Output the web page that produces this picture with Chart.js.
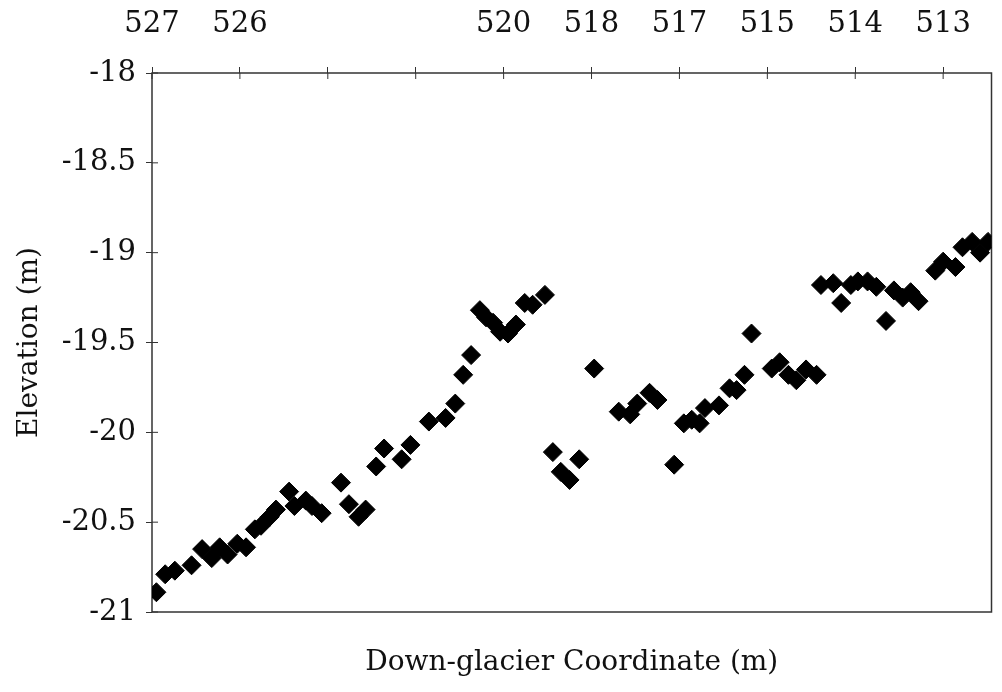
<!DOCTYPE html>
<html lang="en">
<head>
  <meta charset="UTF-8">
  <title>Elevation vs Down-glacier Coordinate</title>
  <script src="https://cdn.jsdelivr.net/npm/chart.js"></script>
  <style>
    body { margin: 0; background: #fff; }
    .wrap { width: 1002px; height: 692px; position: relative; }
  </style>
</head>
<body>
<div class="wrap"><canvas id="profileChart"></canvas></div>
<script>
  // position along the profile, in top-axis tick units
  const coordX = [
    0.05, 0.15, 0.26, 0.45, 0.57, 0.68, 0.77, 0.86, 0.97, 1.07,
    1.17, 1.24, 1.34, 1.41, 1.56, 1.62, 1.75, 1.82, 1.93, 2.15,
    2.24, 2.35, 2.43, 2.55, 2.64, 2.84, 2.94, 3.15, 3.34, 3.45,
    3.54, 3.63, 3.73, 3.80, 3.88, 3.96, 4.05, 4.14, 4.24, 4.33,
    4.47, 4.56, 4.65, 4.75, 4.86, 5.03, 5.31, 5.44, 5.52, 5.66,
    5.75, 5.94, 6.05, 6.14, 6.23, 6.29, 6.45, 6.57, 6.65, 6.74,
    6.82, 7.05, 7.14, 7.24, 7.33, 7.44, 7.56, 7.61, 7.75, 7.84,
    7.95, 8.03, 8.14, 8.24, 8.35, 8.44, 8.54, 8.63, 8.72, 8.91,
    9.00, 9.14, 9.22, 9.33, 9.42, 9.51
  ];
  // elevation (m)
  const elevation = [
    -20.89, -20.79, -20.77, -20.74, -20.65, -20.70, -20.64, -20.68, -20.62, -20.64,
    -20.54, -20.52, -20.47, -20.43, -20.33, -20.41, -20.38, -20.41, -20.45, -20.28,
    -20.40, -20.47, -20.43, -20.19, -20.09, -20.15, -20.07, -19.94, -19.92, -19.84,
    -19.68, -19.57, -19.32, -19.36, -19.39, -19.44, -19.45, -19.40, -19.28, -19.29,
    -19.235, -20.11, -20.22, -20.265, -20.15, -19.645, -19.885, -19.90, -19.84, -19.78,
    -19.82, -20.18, -19.95, -19.93, -19.95, -19.865, -19.85, -19.755, -19.765, -19.68,
    -19.45, -19.645, -19.61, -19.68, -19.71, -19.65, -19.68, -19.18, -19.17, -19.28,
    -19.18, -19.16, -19.16, -19.19, -19.38, -19.21, -19.25, -19.22, -19.27, -19.10,
    -19.05, -19.08, -18.97, -18.94, -19.00, -18.94
  ];
  const topTickLabels = ['527', '526', '', '', '520', '518', '517', '515', '514', '513'];

  const serif = "'DejaVu Serif', serif";
  Chart.defaults.font.family = serif;
  Chart.defaults.color = '#111';

  // plot frame plus the inner half of the tick marks
  const frameTicks = {
    id: 'frameTicks',
    beforeDatasetsDraw(chart) {
      const { ctx, chartArea: a, scales } = chart;
      ctx.save();
      ctx.strokeStyle = '#333';
      ctx.lineWidth = 1.5;
      ctx.strokeRect(a.left, a.top, a.right - a.left, a.bottom - a.top);
      ctx.lineWidth = 1;
      ctx.beginPath();
      scales.y.ticks.forEach(t => {
        const py = scales.y.getPixelForValue(t.value);
        ctx.moveTo(a.left, py);
        ctx.lineTo(a.left + 6, py);
      });
      scales.x.ticks.forEach(t => {
        const px = scales.x.getPixelForValue(t.value);
        ctx.moveTo(px, a.top);
        ctx.lineTo(px, a.top + 6);
      });
      ctx.stroke();
      ctx.restore();
    }
  };

  new Chart(document.getElementById('profileChart'), {
    type: 'scatter',
    data: {
      datasets: [{
        data: coordX.map((x, i) => ({ x: x, y: elevation[i] })),
        xAxisID: 'x',
        yAxisID: 'y',
        pointStyle: 'rectRot',
        pointRadius: 9.5,
        backgroundColor: '#000',
        borderColor: '#000',
        borderWidth: 1
      }]
    },
    options: {
      responsive: true,
      maintainAspectRatio: false,
      animation: false,
      layout: { padding: { right: 5 } },
      plugins: { legend: { display: false }, tooltip: { enabled: false } },
      scales: {
        x: {
          type: 'linear',
          position: 'top',
          min: 0,
          max: 9.55,
          afterFit: s => { s.height = 73; },
          border: { display: false },
          grid: { drawOnChartArea: false, tickLength: 6, color: '#333' },
          ticks: {
            stepSize: 1,
            includeBounds: false,
            autoSkip: false,
            maxRotation: 0,
            padding: 25,
            font: { size: 29 },
            callback: v => topTickLabels[Math.round(v)] ?? ''
          }
        },
        xb: {
          type: 'linear',
          position: 'bottom',
          min: 0,
          max: 9.55,
          afterFit: s => { s.height = 80; },
          border: { display: false },
          grid: { display: false },
          ticks: { display: false },
          title: {
            display: true,
            text: 'Down-glacier Coordinate (m)',
            font: { size: 28 },
            padding: { top: 0, bottom: 12 }
          }
        },
        y: {
          min: -21,
          max: -18,
          afterFit: s => { s.width = 152; },
          border: { display: false },
          grid: { drawOnChartArea: false, tickLength: 6, color: '#333' },
          ticks: {
            stepSize: 0.5,
            padding: 10,
            font: { size: 29 },
            callback: v => String(v)
          },
          title: {
            display: true,
            text: 'Elevation (m)',
            font: { size: 28 },
            padding: { top: 13, bottom: 0 }
          }
        }
      }
    },
    plugins: [frameTicks]
  });
</script>
</body>
</html>
